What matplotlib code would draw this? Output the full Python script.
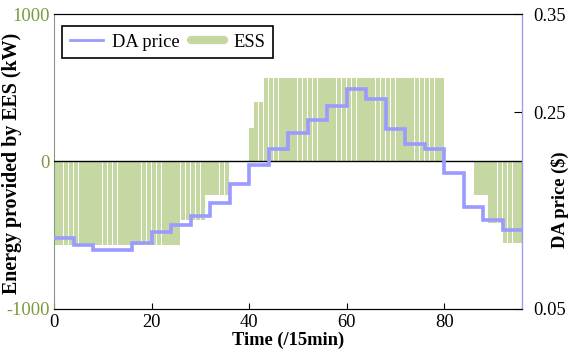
import matplotlib
matplotlib.use('Agg')
import matplotlib.pyplot as plt
from matplotlib.lines import Line2D
import numpy as np

plt.rcParams['font.family'] = ['Liberation Serif', 'DejaVu Serif']
plt.rcParams['font.size'] = 13.3
plt.rcParams['axes.unicode_minus'] = False

# ESS output per 15-min interval (kW), 96 intervals
ess = ([-565] * 26 + [-397] * 5 + [-227] * 5 + [0] * 4 +
       [227] + [400] * 2 + [563] * 37 +
       [0] * 6 + [-227] * 3 + [-420] * 3 + [-555] * 4)
# hourly day-ahead price ($)
price = [0.122, 0.115, 0.110, 0.110, 0.117, 0.128, 0.135, 0.145,
         0.158, 0.177, 0.196, 0.213, 0.229, 0.242, 0.256, 0.274,
         0.264, 0.233, 0.218, 0.213, 0.188, 0.154, 0.140, 0.130]

green_bar = '#c6d8a2'
green_txt = '#7a9a3c'
blue = '#9a9aff'

fig, ax = plt.subplots(figsize=(5.83, 3.6), dpi=100)
fig.subplots_adjust(left=0.093, right=0.896, top=0.961, bottom=0.142)

t = np.arange(len(ess))
ax.bar(t, ess, width=0.88, align='edge', color=green_bar, linewidth=0, zorder=2)
ax.axhline(0, color='black', linewidth=1, zorder=3)
ax.set_xlim(0, 96)
ax.set_ylim(-1000, 1000)
ax.set_yticks([-1000, 0, 1000])
ax.set_xticks([0, 20, 40, 60, 80])
ax.tick_params(axis='x', direction='in', length=4, pad=4)
ax.tick_params(axis='y', direction='in', length=0, colors=green_txt, pad=3)
ax.spines['left'].set_color('#849a86')
ax.set_xlabel('Time (/15min)', fontweight='bold', labelpad=0)
ax.set_ylabel('Energy provided by EES (kW)', fontweight='bold', fontsize=14.4)
ax.yaxis.set_label_coords(-0.068, 0.495)

ax2 = ax.twinx()
edges = np.arange(0, 97, 4)
ax2.stairs(price, edges, color=blue, linewidth=2.6, baseline=None, zorder=4)
ax2.set_ylim(0.05, 0.35)
ax2.set_yticks([0.05, 0.25, 0.35])
ax2.tick_params(axis='y', direction='in', length=6, pad=8)
ax2.spines['right'].set_color(blue)
ax2.spines['left'].set_visible(False)
ax2.set_ylabel('DA price ($)', fontweight='bold')
ax2.yaxis.set_label_coords(1.06, 0.37)

handles = [Line2D([], [], color=blue, linewidth=2),
           Line2D([], [], color=green_bar, linewidth=6, solid_capstyle='round')]
leg = ax2.legend(handles, ['DA price', 'ESS'], loc='upper left', ncol=2,
                 bbox_to_anchor=(0.017, 0.96), fancybox=False, edgecolor='black',
                 framealpha=1, handlelength=1.8, columnspacing=0.6,
                 handletextpad=0.5, borderpad=0.42, borderaxespad=0)
leg.get_frame().set_linewidth(1.2)

fig.savefig('out.png', dpi=100)
